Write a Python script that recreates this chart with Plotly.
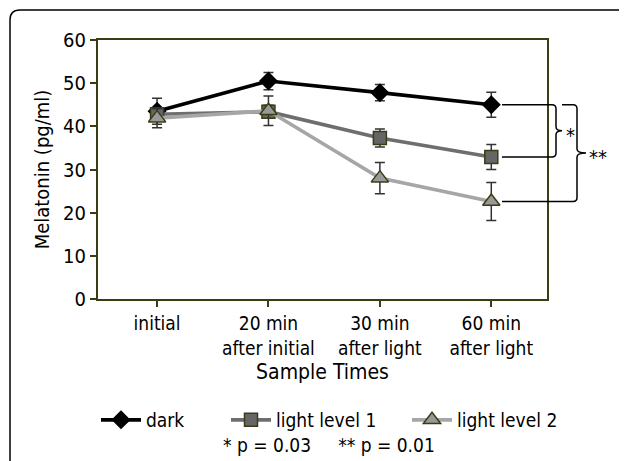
import plotly.graph_objects as go

categories = ["initial", "20 min<br>after initial", "30 min<br>after light", "60 min<br>after light"]
dark = [43.5, 50.5, 47.8, 45.0]
dark_err = [3.0, 2.0, 1.9, 2.9]
light1 = [42.8, 43.4, 37.3, 32.9]
light1_err = [1.5, 1.5, 2.1, 2.9]
light2 = [41.9, 43.6, 28.0, 22.6]
light2_err = [2.2, 3.4, 3.6, 4.4]

FONT = "DejaVu Sans Condensed"
OLIVE = "#3c3c14"
OFF = 8  # page body margin
W, H = 627 - OFF, 461 - OFF
L, T = 98 - OFF, 40 - OFF
R = W - (547 - OFF)
B = H - (299 - OFF)
PW, PH = W - L - R, H - T - B

def px(x):  # screen px -> paper x
    return (x - OFF - L) / PW

def py(y):  # screen px -> paper y
    return (H - B - (y - OFF)) / PH

fig = go.Figure()

def add(name, y, err, lc, sym, size, fill, legend):
    fig.add_trace(go.Scatter(
        x=categories, y=y, name=name, mode="lines+markers",
        line=dict(color=lc, width=3.6),
        marker=dict(symbol=sym, size=size, color=fill,
                    line=dict(color=OLIVE if name != "dark" else "black", width=1.5)),
        error_y=dict(type="data", array=err, color="#333333", thickness=1.5, width=5),
        cliponaxis=False, legend=legend,
    ))

add("dark", dark, dark_err, "black", "diamond", 13, "black", "legend")
add("light level 1", light1, light1_err, "#6e6e6e", "square", 13, "#666666", "legend2")
add("light level 2", light2, light2_err, "#a6a6a6", "triangle-up", 15, "#999999", "legend3")

shapes = []
# outer rounded frame
x0, y0 = px(10), py(10)
rx, ry = 10 / PW, 10 / PH
shapes.append(dict(type="path", xref="paper", yref="paper",
                   path=f"M {x0},{py(480)} L {x0},{y0-ry} Q {x0},{y0} {x0+rx},{y0} L {px(660)},{y0}",
                   line=dict(color="black", width=1.5)))

def brace(ytop, ybot, xstart, xcorner, xv, xtip):
    r = 4 / PH * 60  # data units for ~4px
    ym = (ytop + ybot) / 2
    return (f"M {xstart},{ytop} L {xcorner},{ytop} Q {xv},{ytop} {xv},{ytop-r} "
            f"L {xv},{ym+r} Q {xv},{ym} {xtip},{ym} Q {xv},{ym} {xv},{ym-r} "
            f"L {xv},{ybot+r} Q {xv},{ybot} {xcorner},{ybot} L {xstart},{ybot}")

shapes.append(dict(type="path", xref="paper", yref="y",
                   path=brace(dark[3], light1[3], px(502), px(552), px(556), px(562)),
                   line=dict(color="black", width=1.5)))
shapes.append(dict(type="path", xref="paper", yref="y",
                   path=brace(dark[3], light2[3], px(562), px(573), px(577), px(586)),
                   line=dict(color="black", width=1.5)))
shapes.append(dict(type="line", xref="paper", yref="y", x0=px(502), x1=px(562),
                   y0=light2[3], y1=light2[3], line=dict(color="black", width=1.5)))

annotations = [
    dict(text="*", xref="paper", yref="y", x=px(570), y=(dark[3] + light1[3]) / 2,
         xanchor="center", yanchor="middle",
         showarrow=False, font=dict(size=20, family=FONT, color="black"), yshift=-4),
    dict(text="**", xref="paper", yref="y", x=px(598), y=(dark[3] + light2[3]) / 2,
         xanchor="center", yanchor="middle",
         showarrow=False, font=dict(size=20, family=FONT, color="black"), yshift=-4),
    dict(text="* p = 0.03&nbsp;&nbsp;&nbsp;&nbsp;&nbsp;** p = 0.01", xref="paper", yref="paper",
         x=px(329), y=py(445), xanchor="center", yanchor="middle", showarrow=False,
         font=dict(size=19, family=FONT, color="black")),
]

leg_common = dict(orientation="h", yanchor="middle", y=py(420), xanchor="left",
                  font=dict(size=19, family=FONT, color="black"), bgcolor="rgba(0,0,0,0)",
                  itemwidth=40)

fig.update_layout(
    width=W, height=H,
    margin=dict(l=L, r=R, t=T, b=B),
    paper_bgcolor="white", plot_bgcolor="white",
    font=dict(family=FONT, size=18, color="black"),
    showlegend=True,
    legend=dict(x=px(96), **leg_common),
    legend2=dict(x=px(226), **leg_common),
    legend3=dict(x=px(407), **leg_common),
    shapes=shapes,
    annotations=annotations,
    xaxis=dict(
        type="category", range=[-0.53, 3.5],
        showline=True, linecolor=OLIVE, linewidth=2, mirror=True,
        ticks="outside", ticklen=6, tickcolor=OLIVE, tickwidth=1.5,
        showgrid=False, zeroline=False,
        tickfont=dict(size=19, family=FONT),
        title=dict(text="Sample Times", font=dict(size=21, family=FONT), standoff=7),
    ),
    yaxis=dict(
        range=[0, 60], dtick=10,
        showline=True, linecolor=OLIVE, linewidth=2, mirror=True,
        ticks="outside", ticklen=6, tickcolor=OLIVE, tickwidth=1.5,
        showgrid=False, zeroline=False,
        tickfont=dict(size=20, family=FONT),
        title=dict(text="Melatonin (pg/ml)", font=dict(size=20, family=FONT), standoff=8),
    ),
)

fig.write_html("out.html")
